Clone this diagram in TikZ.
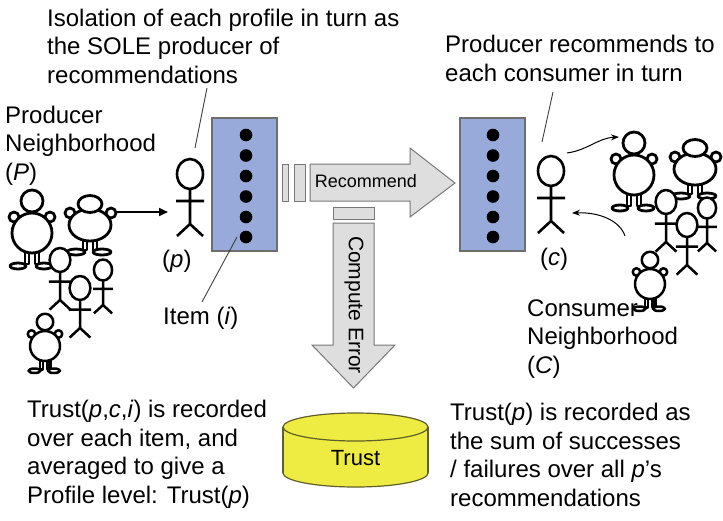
\documentclass[tikz,border=0pt]{standalone}
\usepackage{fontspec}
\setmainfont{Liberation Sans}
\usetikzlibrary{arrows.meta}
\definecolor{itemblue}{RGB}{152,170,218}
\definecolor{itemedge}{RGB}{110,110,110}
\definecolor{arrowfill}{RGB}{222,222,222}
\definecolor{arrowedge}{RGB}{120,120,120}
\definecolor{cylfill}{RGB}{238,236,66}
\definecolor{cyledge}{RGB}{95,95,40}

\tikzset{
  % multi-line labels are placed by the baseline of their last line
  txt/.style={inner sep=0pt, align=left, anchor=base west,
    font=\fontsize{24}{28.5}\selectfont},
  fig/.style={draw=black, fill=white, line join=round},
  leader/.style={draw=black!75, line width=0.9pt},
  itembox/.style={draw=itemedge, line width=1.1pt, fill=itemblue,
    minimum width=65pt, minimum height=133pt, inner sep=0pt},
  flowarrow/.style={draw=arrowedge, line width=1pt, fill=arrowfill, line join=miter},
  % stick figure, origin at the centre of the head
  stickfig/.pic={
    \draw[fig] (0,0) ellipse [x radius=13, y radius=15];
    \draw[fig] (0,15) -- (0,50) (-14,27) -- (14,27) (-13,62) -- (0,50) -- (13,62);
  },
  % stout figure with a round body
  roundfig/.pic={
    \draw[fig] (-7,50) rectangle (-3,63) (3,50) rectangle (7,63);
    \draw[fig] (-14,65) ellipse [x radius=8, y radius=3];
    \draw[fig] (12,65) ellipse [x radius=8, y radius=3];
    \draw[fig] (-18,16) circle [radius=5];
    \draw[fig] (18,16) circle [radius=5];
    \draw[fig] (0,32) circle [radius=20];
    \draw[fig] (0,0) circle [radius=11];
  },
  % stout figure with an oval body and flat head
  ovalfig/.pic={
    \draw[fig] (-7,34) rectangle (-3,46) (3,34) rectangle (7,46);
    \draw[fig] (-14,48) ellipse [x radius=9, y radius=3];
    \draw[fig] (12,48) ellipse [x radius=9, y radius=3];
    \draw[fig] (-20,9) circle [radius=5];
    \draw[fig] (21,9) circle [radius=5];
    \draw[fig] (0,21) ellipse [x radius=21, y radius=16];
    \draw[fig] (0,0) ellipse [x radius=12, y radius=8.5];
  },
}

\begin{document}
\begin{tikzpicture}[x=1pt,y=-1pt]
\useasboundingbox (0,0) rectangle (723,520);

% ---- labels ----
\node[txt] (iso) at (47,83) {Isolation of each profile in turn as\\the SOLE producer of\\recommendations};
\node[txt] (prodnb) at (5,180) {Producer\\Neighborhood\\(\textit{P})};
\node[txt] (prodrec) at (445,81) {Producer recommends to\\each consumer in turn};
\node[txt] (plabel) at (162,267) {(\textit{p})};
\node[txt] (clabel) at (540,265) {(\textit{c})};
\node[txt] (item) at (163,324) {Item (\textit{i})};
\node[txt] (trustpci) at (27,503) {Trust(\textit{p},\textit{c},\textit{i}) is recorded\\over each item, and\\averaged to give a\\Profile level: Trust(\textit{p})};
\node[txt] (trustp) at (450,506) {Trust(\textit{p}) is recorded as\\the sum of successes\\/ failures over all \textit{p}’s\\recommendations};

% ---- item lists ----
\node[itembox] (litems) at (244.5,184.5) {};
\node[itembox] (ritems) at (492.5,184.5) {};
\foreach \y in {135,155.5,176,196.5,217,237} {
  \fill (246,\y) circle [radius=6.3];
  \fill (493,\y) circle [radius=6.3];
}

% ---- recommend arrow ----
\draw[flowarrow] (282,164) rectangle (288,201);
\draw[flowarrow] (294,164) rectangle (305,201);
\draw[flowarrow] (310,164) -- (410,164) -- (410,148) -- (455,183) -- (410,217)
  -- (410,201) -- (310,201) -- cycle;
\node[font=\fontsize{18}{20}\selectfont, inner sep=0pt] (rec) at (366,181) {Recommend};

% ---- compute error arrow ----
\draw[flowarrow] (333,207) rectangle (374,219);
\draw[flowarrow] (333,223) -- (374,223) -- (374,345) -- (395,345) -- (353.5,388)
  -- (312,345) -- (333,345) -- cycle;
\node[font=\fontsize{21}{23}\selectfont, inner sep=0pt, rotate=-90] (err) at (354,305) {Compute Error};

% ---- trust store ----
\draw[draw=cyledge, line width=1.2pt, fill=cylfill] (355.5,473) ellipse [x radius=72.5, y radius=14];
\fill[cylfill] (283,427) rectangle (428,473);
\draw[cyledge, line width=1.2pt] (283,427) -- (283,473) (428,427) -- (428,473);
\draw[draw=cyledge, line width=1.2pt, fill=cylfill] (355.5,427) ellipse [x radius=72.5, y radius=14];
\node[font=\fontsize{22}{24}\selectfont, inner sep=0pt] (trust) at (355.5,458) {Trust};

% ---- producer and consumer ----
\pic[line width=2.6pt] (prod) at (190,174) {stickfig};
\pic[line width=2.6pt] (cons) at (551,171) {stickfig};

% ---- producer neighbourhood ----
\pic[line width=2.8pt] at (32,201) {roundfig};
\pic[line width=2.8pt] at (90,204) {ovalfig};
\pic[line width=2.5pt, scale=0.8] at (60,260) {stickfig};
\pic[line width=2.5pt, scale=0.7] at (103,270) {stickfig};
\pic[line width=2.5pt, scale=0.8] at (80,288) {stickfig};
\pic[line width=2.5pt, scale=0.75] at (45,322) {roundfig};

% ---- consumer neighbourhood ----
\node[txt] (consnb) at (527,373) {Consumer\\Neighborhood\\(\textit{C})};
\pic[line width=2.8pt] at (634,143) {roundfig};
\pic[line width=2.8pt] at (695,148) {ovalfig};
\pic[line width=2.5pt, scale=0.8] at (666,202) {stickfig};
\pic[line width=2.5pt, scale=0.7] at (707,208) {stickfig};
\pic[line width=2.5pt, scale=0.8] at (687,225) {stickfig};
\pic[line width=2.5pt, scale=0.75] at (650,260) {roundfig};

% ---- connectors ----
\coordinate (isofoot) at (207,88);
\coordinate (prodtop) at (195,148);
\coordinate (recfoot) at (553,92);
\coordinate (constop) at (542,142);
\coordinate (itemdot) at (237,237);
\coordinate (itemtop) at (202,302);
\coordinate (pcrowd) at (117,212);
\coordinate (pleft) at (168,212);
\coordinate (cright) at (567,153);
\coordinate (ccrowd) at (619,137);
\coordinate (crowdc) at (625,236);
\coordinate (cside) at (572,213);

\draw[leader] (isofoot) -- (prodtop);
\draw[leader] (recfoot) -- (constop);
\draw[leader] (itemdot) -- (itemtop);
\draw[line width=2pt, -{Triangle[length=9pt,width=8pt]}] (pcrowd) -- (pleft);
\draw[line width=1pt, -{Stealth[length=8pt,width=6pt]}] (cright)
  .. controls (588,150) and (598,138) .. (ccrowd);
\draw[line width=1pt, -{Stealth[length=8pt,width=6pt]}] (crowdc)
  .. controls (620,221) and (600,212) .. (cside);
\end{tikzpicture}
\end{document}
